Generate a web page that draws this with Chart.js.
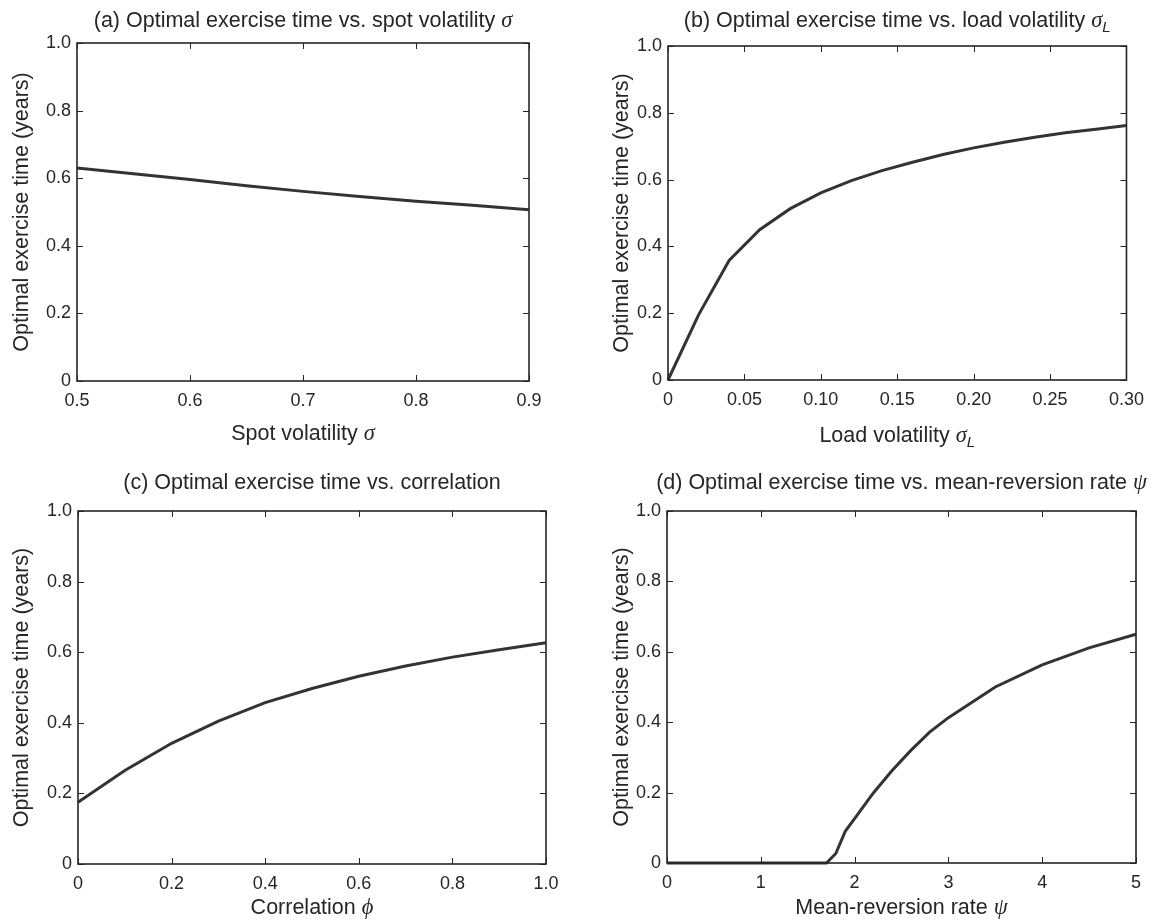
<!DOCTYPE html>
<html>
<head>
<meta charset="utf-8">
<script src="https://cdn.jsdelivr.net/npm/chart.js@4.4.1/dist/chart.umd.min.js"></script>
<style>
  html, body { margin: 0; padding: 0; background: #ffffff; }
  body { width: 1153px; height: 923px; position: relative; overflow: hidden; }
  canvas { position: absolute; }
</style>
</head>
<body>
<canvas id="pa" width="576" height="461" style="left:0px;top:0px;"></canvas>
<canvas id="pb" width="577" height="461" style="left:576px;top:0px;"></canvas>
<canvas id="pc" width="576" height="462" style="left:0px;top:461px;"></canvas>
<canvas id="pd" width="577" height="462" style="left:576px;top:461px;"></canvas>
<script>
// ---------------- DATA ----------------
// (a) spot volatility
const spotVolX = [0.5, 0.55, 0.6, 0.65, 0.7, 0.75, 0.8, 0.85, 0.9];
const spotVolY = [0.630, 0.613, 0.596, 0.578, 0.561, 0.546, 0.532, 0.520, 0.507];
// (b) load volatility
const loadVolX = [0, 0.02, 0.04, 0.06, 0.08, 0.10, 0.12, 0.14, 0.16, 0.18, 0.20, 0.22, 0.24, 0.26, 0.28, 0.30];
const loadVolY = [0, 0.195, 0.358, 0.450, 0.513, 0.560, 0.597, 0.627, 0.652, 0.675, 0.695, 0.712, 0.727, 0.740, 0.751, 0.762];
// (c) correlation
const corrX = [0, 0.1, 0.2, 0.3, 0.4, 0.5, 0.6, 0.7, 0.8, 0.9, 1.0];
const corrY = [0.175, 0.265, 0.342, 0.405, 0.457, 0.497, 0.532, 0.561, 0.586, 0.607, 0.627];
// (d) mean-reversion rate
const meanRevX = [0, 0.5, 1.0, 1.5, 1.7, 1.8, 1.9, 2.0, 2.2, 2.4, 2.6, 2.8, 3.0, 3.5, 4.0, 4.5, 5.0];
const meanRevY = [0, 0, 0, 0, 0, 0.027, 0.090, 0.126, 0.199, 0.263, 0.320, 0.372, 0.413, 0.500, 0.563, 0.611, 0.650];

// tick values / labels
const yTickVals = [0, 0.2, 0.4, 0.6, 0.8, 1.0];
const yTickLabels = ['0', '0.2', '0.4', '0.6', '0.8', '1.0'];
const xTickValsA = [0.5, 0.6, 0.7, 0.8, 0.9];
const xTickLabelsA = ['0.5', '0.6', '0.7', '0.8', '0.9'];
const xTickValsB = [0, 0.05, 0.10, 0.15, 0.20, 0.25, 0.30];
const xTickLabelsB = ['0', '0.05', '0.10', '0.15', '0.20', '0.25', '0.30'];
const xTickValsC = [0, 0.2, 0.4, 0.6, 0.8, 1.0];
const xTickLabelsC = ['0', '0.2', '0.4', '0.6', '0.8', '1.0'];
const xTickValsD = [0, 1, 2, 3, 4, 5];
const xTickLabelsD = ['0', '1', '2', '3', '4', '5'];

// texts (segments: plain / math italic symbol / italic subscript)
const yAxisTitle = 'Optimal exercise time (years)';
const titleA = [{ text: '(a) Optimal exercise time vs. spot volatility ' }, { text: 'σ', math: true }];
const titleB = [{ text: '(b) Optimal exercise time vs. load volatility ' }, { text: 'σ', math: true }, { text: 'L', sub: true }];
const titleC = [{ text: '(c) Optimal exercise time vs. correlation' }];
const titleD = [{ text: '(d) Optimal exercise time vs. mean-reversion rate ' }, { text: 'ψ', math: true }];
const xTitleA = [{ text: 'Spot volatility ' }, { text: 'σ', math: true }];
const xTitleB = [{ text: 'Load volatility ' }, { text: 'σ', math: true }, { text: 'L', sub: true }];
const xTitleC = [{ text: 'Correlation ' }, { text: 'ϕ', math: true }];
const xTitleD = [{ text: 'Mean-reversion rate ' }, { text: 'ψ', math: true }];

// ---------------- STYLE ----------------
const TEXT = '#262626';
const LINE = '#333333';
const FONT = "'Liberation Sans', Arial, Helvetica, sans-serif";
const SERIF = "'Liberation Serif', 'Times New Roman', serif";
const LABEL_SIZE = 21.5;

function segFont(s) {
  if (s.math) return 'italic ' + (LABEL_SIZE + 1) + 'px ' + SERIF;
  if (s.sub) return 'italic ' + Math.round(LABEL_SIZE * 0.72) + 'px ' + FONT;
  return LABEL_SIZE + 'px ' + FONT;
}

function richTextPlugin(items) {
  return {
    id: 'richText',
    afterDraw(chart) {
      const { ctx, chartArea: a } = chart;
      ctx.save();
      ctx.fillStyle = TEXT;
      ctx.textBaseline = 'alphabetic';
      ctx.textAlign = 'left';
      items.forEach(item => {
        const baseY = item.anchor === 'top' ? a.top - item.offset : a.bottom + item.offset;
        const cx = (a.left + a.right) / 2;
        let total = 0;
        const segs = item.segs.map(s => {
          const f = segFont(s);
          ctx.font = f;
          const w = ctx.measureText(s.text).width;
          total += w;
          return { s, f, w };
        });
        let x = cx - total / 2;
        segs.forEach(({ s, f, w }) => {
          ctx.font = f;
          ctx.fillText(s.text, x, baseY + (s.sub ? LABEL_SIZE * 0.25 : 0));
          x += w;
        });
      });
      ctx.restore();
    }
  };
}

const framePlugin = {
  id: 'frame',
  afterDatasetsDraw(chart) {
    const { ctx, chartArea: a, scales } = chart;
    ctx.save();
    ctx.strokeStyle = TEXT;
    ctx.lineWidth = 1;
    const tl = 6;
    ctx.beginPath();
    scales.x.ticks.forEach(t => {
      const px = Math.round(scales.x.getPixelForValue(t.value)) + 0.5;
      ctx.moveTo(px, a.bottom); ctx.lineTo(px, a.bottom - tl);
      ctx.moveTo(px, a.top); ctx.lineTo(px, a.top + tl);
    });
    scales.y.ticks.forEach(t => {
      const py = Math.round(scales.y.getPixelForValue(t.value)) + 0.5;
      ctx.moveTo(a.left, py); ctx.lineTo(a.left + tl, py);
      ctx.moveTo(a.right, py); ctx.lineTo(a.right - tl, py);
    });
    ctx.stroke();
    ctx.lineWidth = 1.6;
    ctx.strokeRect(a.left, a.top, a.right - a.left, a.bottom - a.top);
    ctx.restore();
  }
};

function makePanel(id, xs, ys, xVals, xLabels, title, xTitle, g) {
  const pts = xs.map((x, i) => ({ x: x, y: ys[i] }));
  new Chart(document.getElementById(id), {
    type: 'scatter',
    data: {
      datasets: [{
        data: pts,
        showLine: true,
        borderColor: LINE,
        borderWidth: 3,
        pointRadius: 0,
        tension: 0,
        clip: false
      }]
    },
    options: {
      responsive: false,
      animation: false,
      devicePixelRatio: 1,
      layout: { padding: { left: 0, right: g.padRight, top: g.padTop, bottom: 0 } },
      plugins: {
        legend: { display: false },
        tooltip: { enabled: false },
        title: { display: false }
      },
      scales: {
        x: {
          type: 'linear',
          min: xVals[0],
          max: xVals[xVals.length - 1],
          afterBuildTicks: s => { s.ticks = xVals.map(v => ({ value: v })); },
          afterFit: s => { s.height = g.xAxisH; },
          grid: { display: false, drawTicks: false },
          border: { display: false },
          ticks: {
            autoSkip: false, maxRotation: 0, padding: 9,
            color: TEXT, font: { family: FONT, size: 18 },
            callback: (v, i) => xLabels[i]
          },
          title: { display: false }
        },
        y: {
          type: 'linear',
          min: 0,
          max: 1,
          afterBuildTicks: s => { s.ticks = yTickVals.map(v => ({ value: v })); },
          afterFit: s => { s.width = g.yAxisW; },
          grid: { display: false, drawTicks: false },
          border: { display: false },
          ticks: {
            autoSkip: false, padding: 6,
            color: TEXT, font: { family: FONT, size: 18 },
            callback: (v, i) => yTickLabels[i]
          },
          title: {
            display: true, text: yAxisTitle, color: TEXT,
            font: { family: FONT, size: LABEL_SIZE, lineHeight: 1.2 },
            padding: { top: g.yTitlePad, bottom: 0 }
          }
        }
      }
    },
    plugins: [framePlugin, richTextPlugin([
      { segs: title, anchor: 'top', offset: g.titleOff },
      { segs: xTitle, anchor: 'bottom', offset: g.xTitleOff }
    ])]
  });
}

makePanel('pa', spotVolX, spotVolY, xTickValsA, xTickLabelsA, titleA, xTitleA,
  { padRight: 47, padTop: 43, xAxisH: 80, yAxisW: 77, yTitlePad: 9, titleOff: 16.5, xTitleOff: 58.5 });
makePanel('pb', loadVolX, loadVolY, xTickValsB, xTickLabelsB, titleB, xTitleB,
  { padRight: 24, padTop: 46, xAxisH: 81, yAxisW: 92, yTitlePad: 33, titleOff: 19.5, xTitleOff: 62 });
makePanel('pc', corrX, corrY, xTickValsC, xTickLabelsC, titleC, xTitleC,
  { padRight: 30, padTop: 50, xAxisH: 59, yAxisW: 78, yTitlePad: 9, titleOff: 22, xTitleOff: 50 });
makePanel('pd', meanRevX, meanRevY, xTickValsD, xTickLabelsD, titleD, xTitleD,
  { padRight: 17, padTop: 50, xAxisH: 60, yAxisW: 91, yTitlePad: 33, titleOff: 22, xTitleOff: 51 });
</script>
</body>
</html>
